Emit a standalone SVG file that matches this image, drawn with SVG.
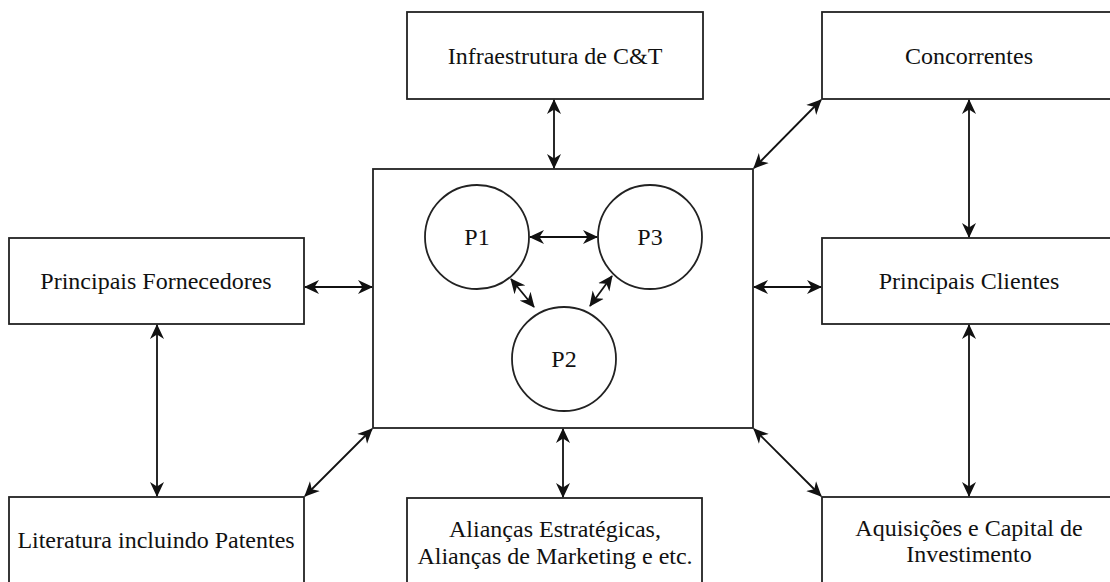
<svg xmlns="http://www.w3.org/2000/svg" width="1110" height="582" viewBox="0 0 1110 582">
  <style>
    .box { fill: #ffffff; stroke: #222; stroke-width: 1.8; }
    .frame { fill: none; stroke: #222; stroke-width: 1.8; }
    .link { stroke: #111; stroke-width: 1.8; fill: none; marker-start: url(#head); marker-end: url(#head); }
  </style>
  <defs>
    <marker id="head" viewBox="0 0 15 15" refX="14" refY="7.5" markerWidth="15" markerHeight="15" markerUnits="userSpaceOnUse" orient="auto-start-reverse">
      <path d="M0,0.5 L15,7.5 L0,14.5 L4.5,7.5 Z" fill="#111"/>
    </marker>
  </defs>
  <rect width="1110" height="582" fill="#ffffff"/>

  <g font-family="Liberation Serif" font-size="24" fill="#111" text-anchor="middle">
    <g id="infraestrutura">
      <rect class="box" x="407" y="12" width="296" height="87"/>
      <text x="555" y="64">Infraestrutura de C&amp;T</text>
    </g>
    <g id="concorrentes">
      <rect class="box" x="822" y="12" width="296" height="87"/>
      <text x="969" y="64">Concorrentes</text>
    </g>
    <g id="fornecedores">
      <rect class="box" x="9" y="238" width="295" height="86"/>
      <text x="156" y="289">Principais Fornecedores</text>
    </g>
    <g id="clientes">
      <rect class="box" x="822" y="238" width="296" height="86"/>
      <text x="969" y="289">Principais Clientes</text>
    </g>
    <g id="literatura">
      <rect class="box" x="9" y="497" width="295" height="87"/>
      <text x="156" y="548">Literatura incluindo Patentes</text>
    </g>
    <g id="aliancas">
      <rect class="box" x="407" y="498" width="295" height="87"/>
      <text x="555" y="537">Alianças Estratégicas,</text>
      <text x="555" y="564">Alianças de Marketing e etc.</text>
    </g>
    <g id="aquisicoes">
      <rect class="box" x="822" y="497" width="296" height="87"/>
      <text x="969" y="536">Aquisições e Capital de</text>
      <text x="969" y="562">Investimento</text>
    </g>

    <g id="empresa">
      <rect class="frame" x="373" y="169" width="380" height="259"/>
    </g>
    <g id="p1">
      <circle class="box" cx="477" cy="237" r="52"/>
      <text x="477" y="245">P1</text>
    </g>
    <g id="p3">
      <circle class="box" cx="650" cy="237" r="52"/>
      <text x="650" y="245">P3</text>
    </g>
    <g id="p2">
      <circle class="box" cx="564" cy="359" r="52"/>
      <text x="564" y="367">P2</text>
    </g>
  </g>

  <!-- two-way links between the firm, its processes and its environment -->
  <g id="connectors">
    <line class="link" x1="554" y1="100" x2="554" y2="168"/>
    <line class="link" x1="821" y1="100" x2="754" y2="168"/>
    <line class="link" x1="969" y1="100" x2="969" y2="237"/>
    <line class="link" x1="305" y1="287" x2="372" y2="287"/>
    <line class="link" x1="754" y1="287" x2="821" y2="287"/>
    <line class="link" x1="157" y1="325" x2="157" y2="496"/>
    <line class="link" x1="969" y1="325" x2="969" y2="496"/>
    <line class="link" x1="372" y1="429" x2="305" y2="496"/>
    <line class="link" x1="563" y1="429" x2="563" y2="497"/>
    <line class="link" x1="754" y1="429" x2="821" y2="496"/>
    <line class="link" x1="530" y1="237" x2="597" y2="237"/>
    <line class="link" x1="511" y1="279" x2="534" y2="307"/>
    <line class="link" x1="612" y1="276" x2="590" y2="306"/>
  </g>
</svg>
